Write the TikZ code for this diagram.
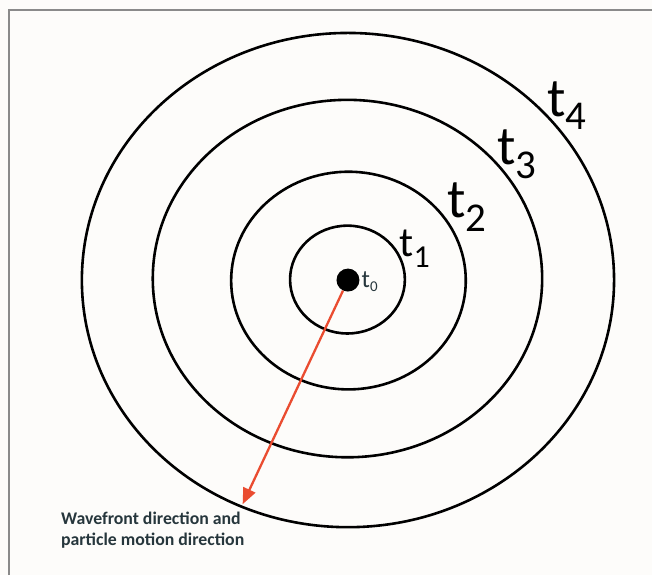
\documentclass[tikz,border=0pt]{standalone}
\usepackage{fontspec}
\setmainfont{Carlito}
\usetikzlibrary{arrows.meta}
\definecolor{framegray}{RGB}{138,138,138}
\definecolor{raycol}{RGB}{234,76,48}
\definecolor{notecol}{RGB}{38,54,60}
\definecolor{paper}{RGB}{253,252,250}
\newcommand{\wlabel}[4]{\fontsize{#1}{#1}\selectfont t\raisebox{-#3}{\fontsize{#2}{#2}\selectfont #4}}

\begin{document}
\begin{tikzpicture}[
  x=1pt,y=-1pt,
  >={Triangle[length=16pt,width=13pt]},
  front/.style={line width=2.6pt},
  tlab/.style={anchor=base west,inner sep=0pt},
  ray/.style={->,line width=2.3pt,draw=raycol}
]
\fill[paper] (0,0) rectangle (653,576);
\draw[framegray,line width=2pt] (9,576) -- (9,10) -- (653,10);

% wavefronts
\draw[front] (348,280) ellipse [x radius=57.5,y radius=54];
\draw[front] (349,281) ellipse [x radius=117.5,y radius=109];
\draw[front] (348,279) ellipse [x radius=195,y radius=179];
\draw[front] (348.5,280.5) ellipse [x radius=266.5,y radius=247.5];

% source and times
\node[circle,fill=black,minimum size=23pt,inner sep=0pt] (src) at (348.5,280.5) {};
\node[tlab,text=notecol] (t0) at (362,288) {\wlabel{25pt}{15pt}{4pt}{0}};
\node[tlab] (t1) at (400,257) {\wlabel{42pt}{32pt}{11pt}{1}};
\node[tlab] (t2) at (448,218) {\wlabel{55pt}{41pt}{14pt}{2}};
\node[tlab] (t3) at (498,165) {\wlabel{55pt}{41pt}{14pt}{3}};
\node[tlab] (t4) at (548,117) {\wlabel{55pt}{41pt}{13pt}{4}};

% direction
\coordinate (tip) at (243,505);
\draw[ray] (src) -- (tip);
\node[anchor=north west,inner sep=0pt,align=left,text=notecol,
  font=\bfseries\fontsize{17.8pt}{21pt}\selectfont] (note) at (61,513)
  {Wavefront direction and\\particle motion direction};
\end{tikzpicture}
\end{document}
